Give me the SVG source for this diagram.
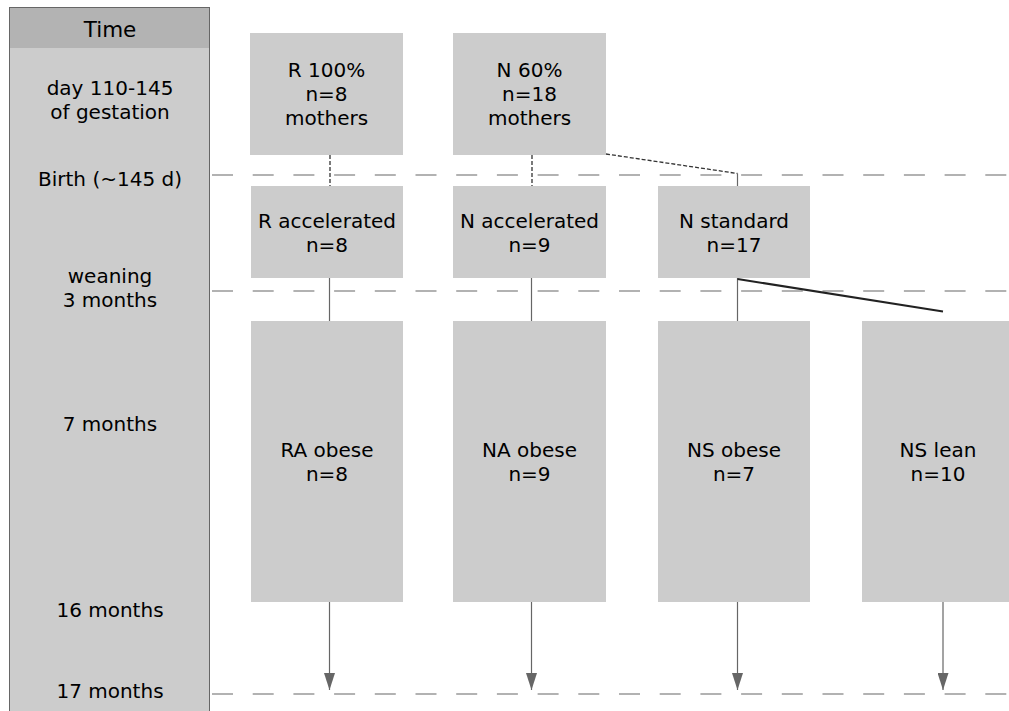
<svg xmlns="http://www.w3.org/2000/svg" width="1009" height="711" viewBox="0 0 1009 711">
<style>
  text { font-family: "DejaVu Sans", Verdana, "Liberation Sans", sans-serif; font-size: 20px; fill: #000; text-anchor: middle; }
  .box { fill: #cccccc; }
  .grid { stroke: #999; stroke-width: 1.5; stroke-dasharray: 21 19.7; fill: none; }
  .conn { stroke: #666; stroke-width: 1.2; fill: none; }
  .dash { stroke: #333; stroke-width: 1.3; stroke-dasharray: 4 2; fill: none; }
  .bold { stroke: #222; stroke-width: 2; fill: none; }
</style>
<defs>
  <marker id="arr" markerWidth="17" markerHeight="11" refX="17" refY="5.5" orient="auto" markerUnits="userSpaceOnUse" viewBox="0 0 17 11">
    <path d="M0,0 L17,5.5 L0,11 Z" fill="#666"/>
  </marker>
</defs>
<rect width="1009" height="711" fill="#fff"/>

<g id="time-axis">
  <rect x="9.5" y="7.5" width="200" height="720" fill="#cccccc" stroke="#666" stroke-width="1"/>
  <rect x="10" y="8" width="199" height="40" fill="#b3b3b3"/>
  <text x="110" y="37" style="font-size:21.5px">Time</text>
  <text x="110" y="95">day 110-145</text>
  <text x="110" y="119">of gestation</text>
  <text x="110" y="186">Birth (~145 d)</text>
  <text x="110" y="283">weaning</text>
  <text x="110" y="307">3 months</text>
  <text x="110" y="431">7 months</text>
  <text x="110" y="617">16 months</text>
  <text x="110" y="698">17 months</text>
</g>

<g id="gridlines">
  <line class="grid" x1="212" y1="175" x2="1009" y2="175"/>
  <line class="grid" x1="212" y1="291" x2="1009" y2="291"/>
  <line class="grid" x1="212" y1="694" x2="1009" y2="694"/>
</g>

<g id="connectors">
  <line class="dash" x1="330" y1="155" x2="330" y2="186"/>
  <line class="dash" x1="532" y1="155" x2="532" y2="186"/>
  <polyline class="dash" points="606,154 737.5,173.5"/>
  <line class="conn" x1="737.5" y1="173.5" x2="737.5" y2="186"/>
  <line class="conn" x1="329.5" y1="278" x2="329.5" y2="321"/>
  <line class="conn" x1="531.5" y1="278" x2="531.5" y2="321"/>
  <line class="conn" x1="737.5" y1="278" x2="737.5" y2="321"/>
  <line class="bold" x1="737.5" y1="279" x2="943" y2="311.5"/>
  <line class="conn" x1="329.5" y1="602" x2="329.5" y2="690" marker-end="url(#arr)"/>
  <line class="conn" x1="531.5" y1="602" x2="531.5" y2="690" marker-end="url(#arr)"/>
  <line class="conn" x1="737.5" y1="602" x2="737.5" y2="690" marker-end="url(#arr)"/>
  <line class="conn" x1="943" y1="602" x2="943" y2="690" marker-end="url(#arr)"/>
</g>

<g id="node-r100">
  <rect class="box" x="250" y="33" width="153" height="122"/>
  <text x="326.5" y="77">R 100%</text>
  <text x="326.5" y="101">n=8</text>
  <text x="326.5" y="125">mothers</text>
</g>
<g id="node-n60">
  <rect class="box" x="453" y="33" width="153" height="122"/>
  <text x="529.5" y="77">N 60%</text>
  <text x="529.5" y="101">n=18</text>
  <text x="529.5" y="125">mothers</text>
</g>

<g id="node-r-accelerated">
  <rect class="box" x="251" y="186" width="152" height="92"/>
  <text x="327" y="228">R accelerated</text>
  <text x="327" y="252">n=8</text>
</g>
<g id="node-n-accelerated">
  <rect class="box" x="453" y="186" width="153" height="92"/>
  <text x="529.5" y="228">N accelerated</text>
  <text x="529.5" y="252">n=9</text>
</g>
<g id="node-n-standard">
  <rect class="box" x="658" y="186" width="152" height="92"/>
  <text x="734" y="228">N standard</text>
  <text x="734" y="252">n=17</text>
</g>

<g id="node-ra-obese">
  <rect class="box" x="251" y="321" width="152" height="281"/>
  <text x="327" y="457">RA obese</text>
  <text x="327" y="481">n=8</text>
</g>
<g id="node-na-obese">
  <rect class="box" x="453" y="321" width="153" height="281"/>
  <text x="529.5" y="457">NA obese</text>
  <text x="529.5" y="481">n=9</text>
</g>
<g id="node-ns-obese">
  <rect class="box" x="658" y="321" width="152" height="281"/>
  <text x="734" y="457">NS obese</text>
  <text x="734" y="481">n=7</text>
</g>
<g id="node-ns-lean">
  <rect class="box" x="862" y="321" width="153" height="281"/>
  <text x="938" y="457">NS lean</text>
  <text x="938" y="481">n=10</text>
</g>
</svg>
